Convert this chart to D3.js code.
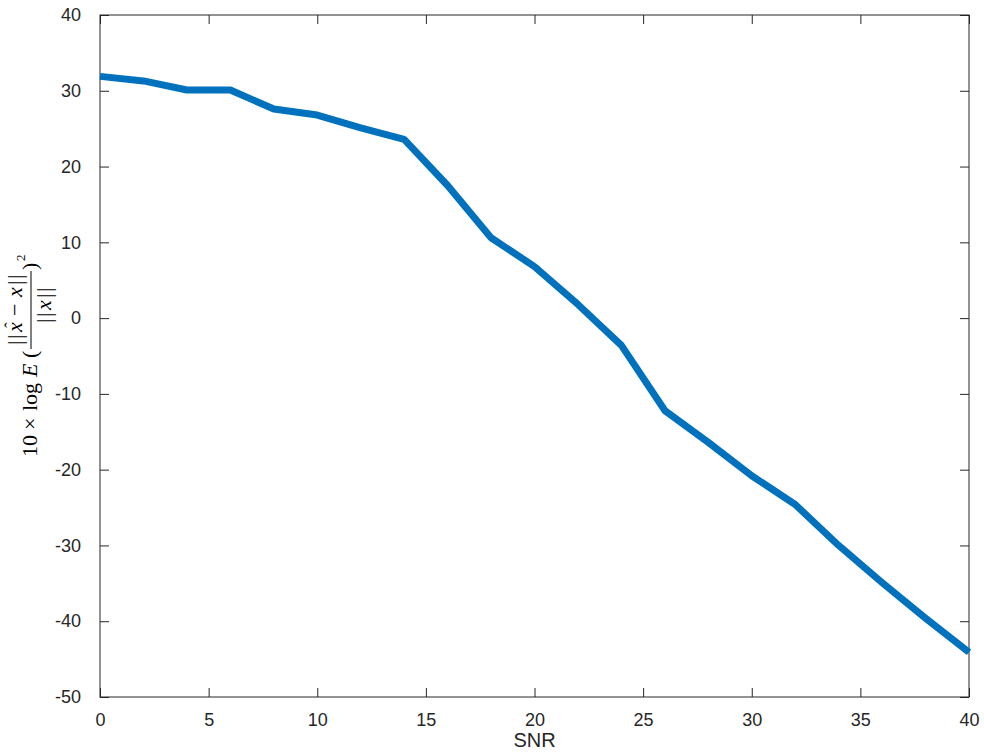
<!DOCTYPE html>
<html>
<head>
<meta charset="utf-8">
<script src="https://cdn.jsdelivr.net/npm/d3@7"></script>
<style>
  body { margin: 0; background: #fff; }
  svg { display: block; }
  .tick text { font-family: "Liberation Sans", Arial, Helvetica, sans-serif; font-size: 18px; fill: #262626; }
</style>
</head>
<body>
<script>
const snr = [0, 2, 4, 6, 8, 10, 12, 14, 16, 18, 20, 22, 24, 26, 28, 30, 32, 34, 36, 38, 40]; // x values
const mse = [31.9, 31.3, 30.1, 30.1, 27.6, 26.8, 25.1, 23.6, 17.5, 10.6, 6.8, 1.8, -3.6, -12.2, -16.4, -20.8, -24.6, -30.0, -34.9, -39.6, -44.1]; // dB
const xTicks = [0, 5, 10, 15, 20, 25, 30, 35, 40];
const yTicks = [-50, -40, -30, -20, -10, 0, 10, 20, 30, 40];

const width = 984, height = 753;
const plotLeft = 100, plotRight = 969, plotTop = 15, plotBottom = 697;

const svg = d3.select("body").append("svg")
  .attr("width", width)
  .attr("height", height);

const x = d3.scaleLinear().domain([0, 40]).range([plotLeft, plotRight]);
const y = d3.scaleLinear().domain([-50, 40]).range([plotBottom, plotTop]);

const plain = d => String(d); // matlab prints "-10" with a hyphen

// axes (ticks point inward like matlab)
const axisColor = "#262626";
svg.append("g")
  .attr("transform", "translate(0," + plotBottom + ")")
  .call(d3.axisBottom(x).tickValues(xTicks).tickFormat(plain).tickSizeInner(-9).tickSizeOuter(0).tickPadding(16))
  .call(g => g.select(".domain").remove());
svg.append("g")
  .attr("transform", "translate(" + plotLeft + ",0)")
  .call(d3.axisLeft(y).tickValues(yTicks).tickFormat(plain).tickSizeInner(-9).tickSizeOuter(0).tickPadding(19))
  .call(g => g.select(".domain").remove());
svg.append("g")
  .attr("transform", "translate(0," + plotTop + ")")
  .call(d3.axisTop(x).tickValues(xTicks).tickSizeInner(-9).tickSizeOuter(0).tickFormat(""))
  .call(g => g.select(".domain").remove());
svg.append("g")
  .attr("transform", "translate(" + plotRight + ",0)")
  .call(d3.axisRight(y).tickValues(yTicks).tickSizeInner(-9).tickSizeOuter(0).tickFormat(""))
  .call(g => g.select(".domain").remove());
svg.selectAll(".tick line").attr("stroke", axisColor);

// box
svg.append("rect")
  .attr("x", plotLeft).attr("y", plotTop)
  .attr("width", plotRight - plotLeft).attr("height", plotBottom - plotTop)
  .attr("fill", "none").attr("stroke", axisColor).attr("stroke-width", 1);

// the curve
const line = d3.line().x((d, i) => x(snr[i])).y(d => y(d));
svg.append("path")
  .datum(mse)
  .attr("d", line)
  .attr("fill", "none")
  .attr("stroke", "#0072BD")
  .attr("stroke-width", 7)
  .attr("stroke-linejoin", "round");

// x label
svg.append("text")
  .attr("x", (plotLeft + plotRight) / 2)
  .attr("y", 747)
  .attr("text-anchor", "middle")
  .style("font-family", "Liberation Sans, Arial, sans-serif")
  .style("font-size", "20px")
  .style("fill", axisColor)
  .text("SNR");

// y label: 10 x log E( ||x^ - x|| / ||x|| )^2, latex-ish, placed by hand
// local coords: x runs up the page from the bottom of the label, y=0 is the baseline
const serif = "Liberation Serif, Times New Roman, serif";
const lab = svg.append("g").attr("transform", "translate(37,457) rotate(-90)");
function piece(str, px, py, size, italic) {
  lab.append("text")
    .attr("x", px).attr("y", py)
    .style("font-family", serif)
    .style("font-size", size + "px")
    .style("font-style", italic ? "italic" : "normal")
    .style("fill", "#000")
    .text(str);
}
piece("10", 0, 0, 22);
piece("×", 27, 0, 22);
piece("log", 46, 0, 22);
piece("E", 80, 0, 22, true);
piece("(", 99, 0, 22);
// numerator
const ny = -15;
piece("|", 112, ny, 22);
piece("|", 118, ny, 22);
piece("x", 125, ny, 22, true);
piece("ˆ", 129, ny - 6, 17);
piece("−", 141, ny, 22);
piece("x", 160, ny, 22, true);
piece("|", 172, ny, 22);
piece("|", 178, ny, 22);
// denominator
const dy = 14;
piece("|", 134, dy, 22);
piece("|", 140, dy, 22);
piece("x", 147, dy, 22, true);
piece("|", 159, dy, 22);
piece("|", 165, dy, 22);
// fraction bar
lab.append("line")
  .attr("x1", 108).attr("x2", 186)
  .attr("y1", -6).attr("y2", -6)
  .attr("stroke", "#000").attr("stroke-width", 1);
piece(")", 187, 0, 22);
piece("2", 196, -12, 13);
</script>
</body>
</html>
